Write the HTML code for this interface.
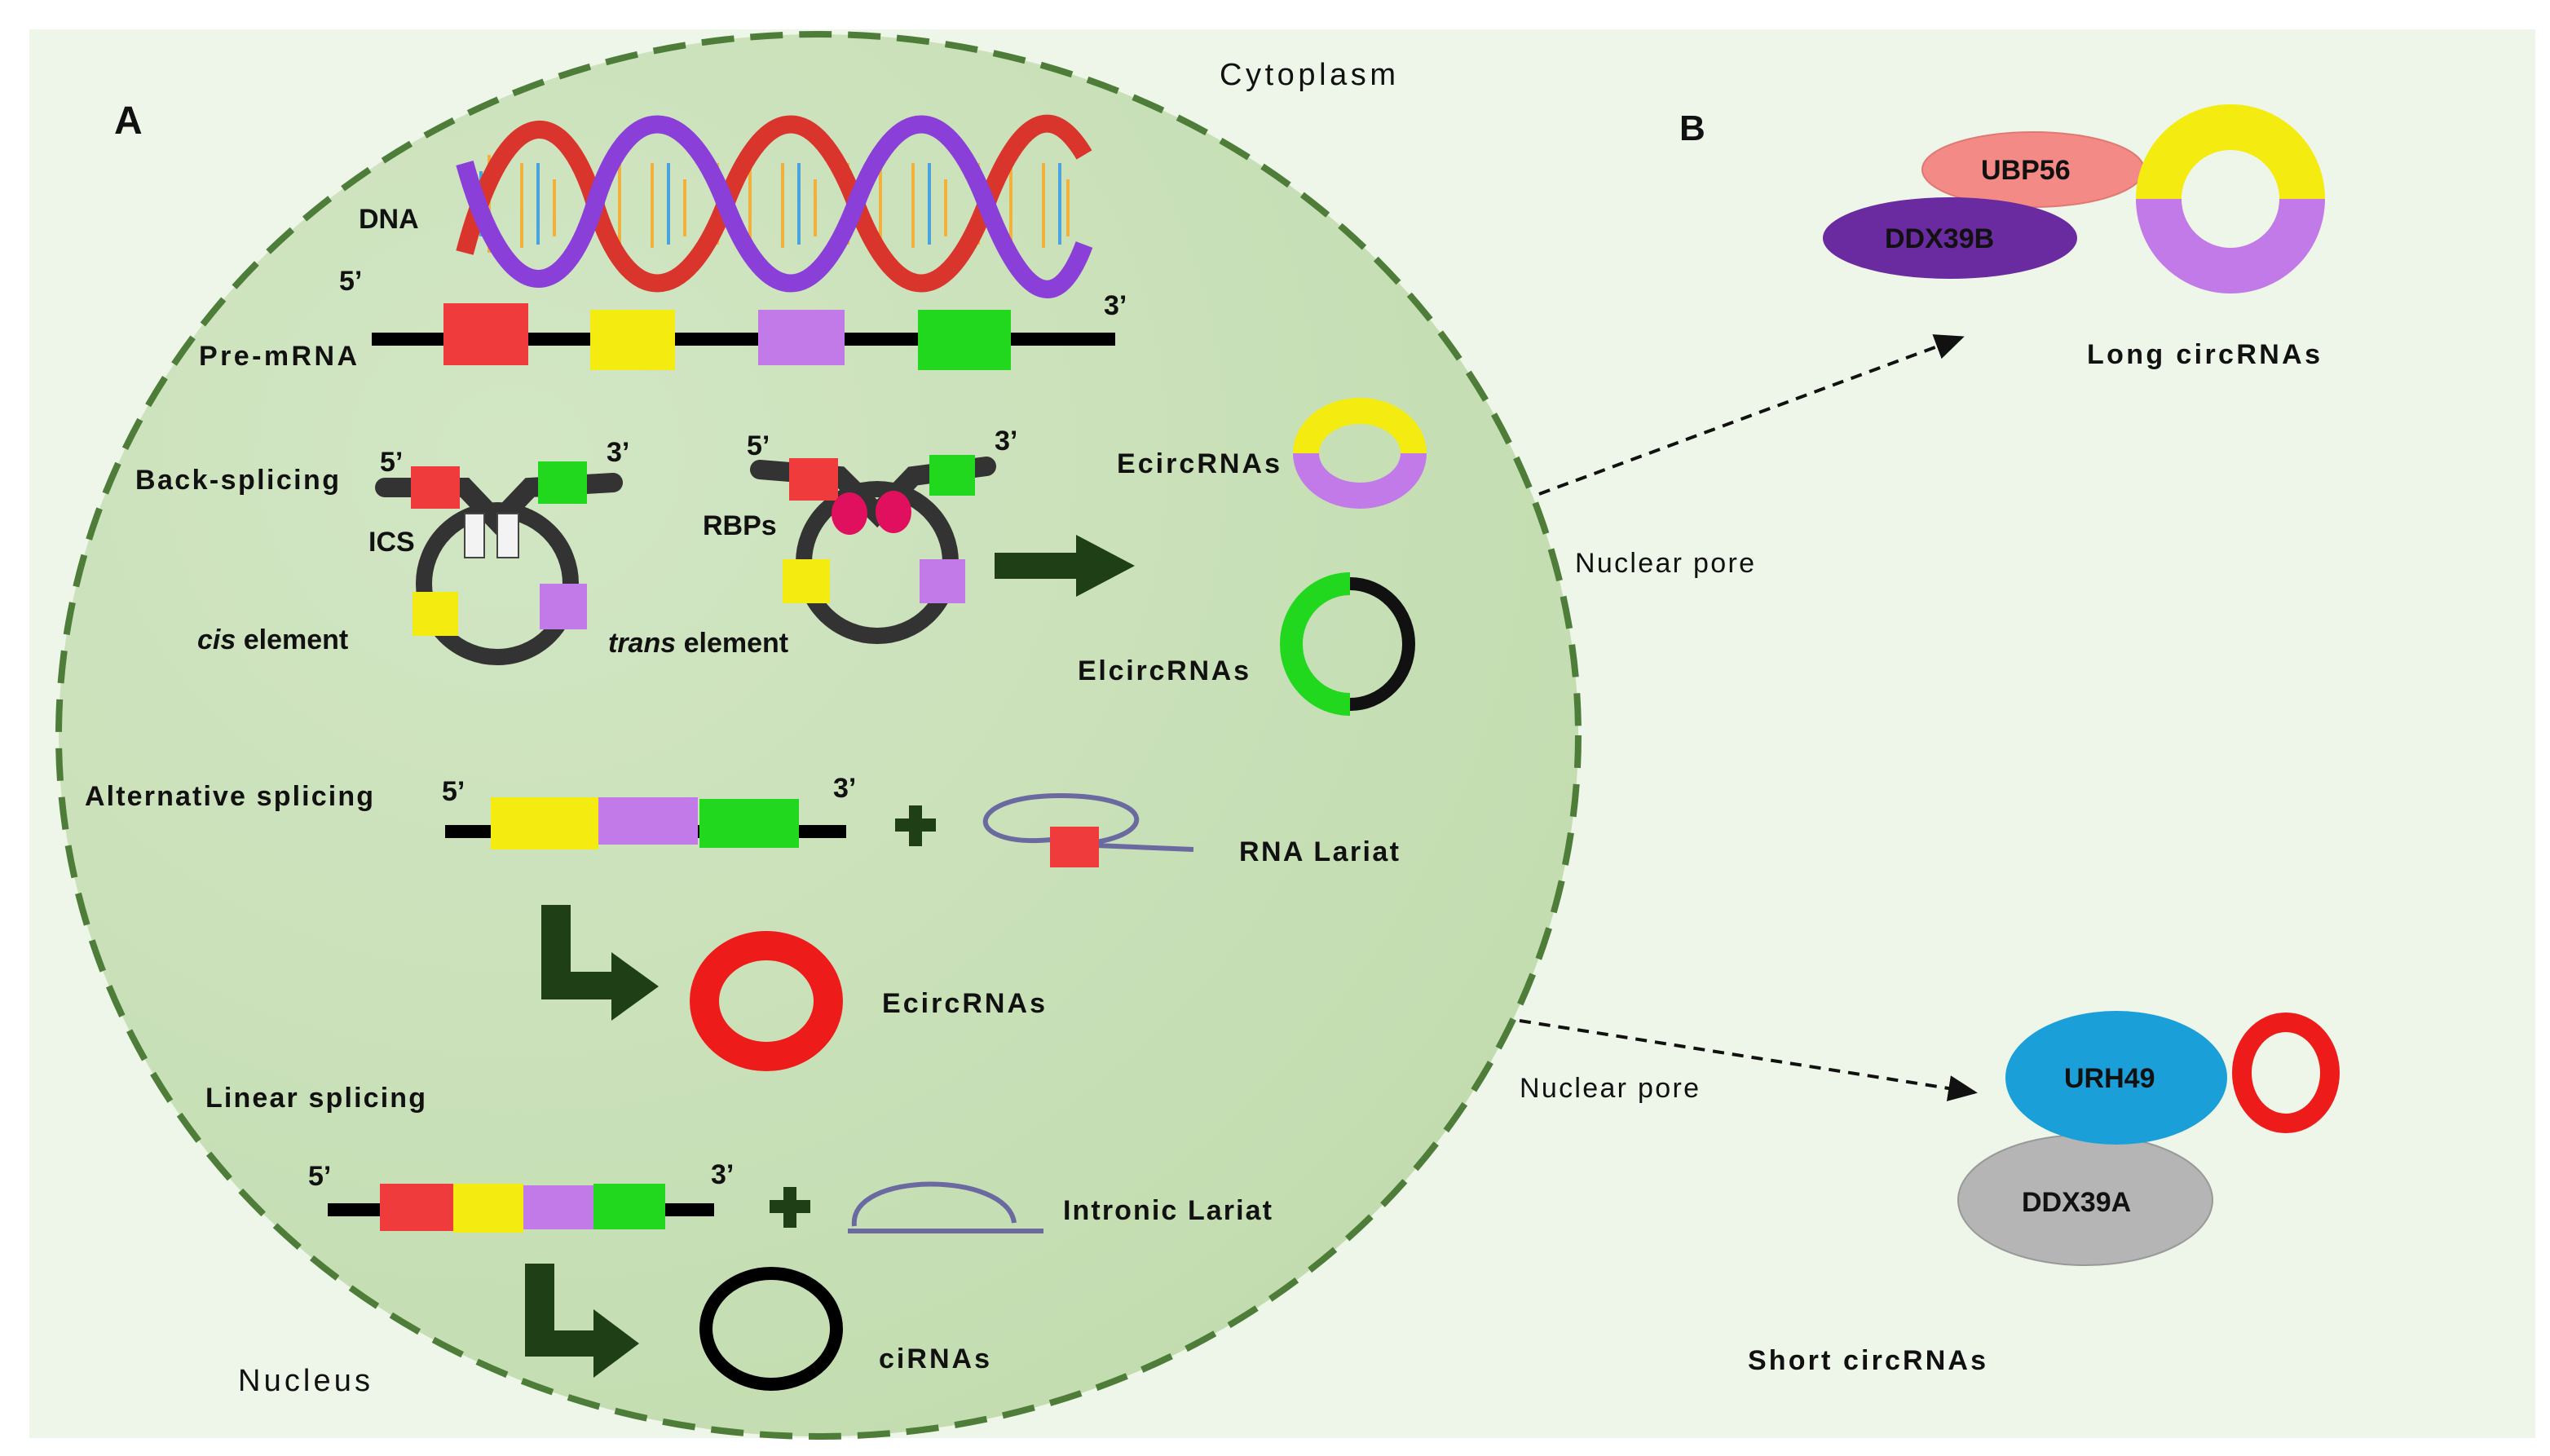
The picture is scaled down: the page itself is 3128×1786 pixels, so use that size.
<!DOCTYPE html>
<html><head><meta charset="utf-8"><style>html,body{margin:0;padding:0;background:#fff}svg{display:block}text{font-family:"Liberation Sans",sans-serif}</style></head><body>
<svg width="3128" height="1786" viewBox="0 0 1564 893" xmlns="http://www.w3.org/2000/svg">
<defs>
<radialGradient id="cg" cx="0.3" cy="0.3" r="0.8"><stop offset="0" stop-color="#d2e6c4"/><stop offset="1" stop-color="#c2dcaf"/></radialGradient>
<marker id="ah" markerWidth="10" markerHeight="10" refX="8" refY="5" orient="auto"><path d="M0,1 L9,5 L0,9 Z" fill="#111"/></marker>
</defs>
<rect x="18" y="18" width="1537" height="864" fill="#eef5e9"/>
<ellipse cx="502" cy="451" rx="466" ry="430" fill="url(#cg)" stroke="#4e7d3a" stroke-width="4" stroke-dasharray="20 10"/>
<g font-weight="bold" fill="#111" font-size="17">
<text x="70" y="82" font-size="24">A</text>
<text x="1030" y="86" font-size="22">B</text>
<text x="220" y="140">DNA</text>
<text x="208" y="178">5’</text><text x="677" y="193">3’</text>
<text x="122" y="224" textLength="97">Pre-mRNA</text>
<text x="83" y="300" textLength="125">Back-splicing</text>
<text x="233" y="289">5’</text><text x="372" y="283">3’</text>
<text x="226" y="338">ICS</text>
<text x="121" y="398"><tspan font-style="italic">cis</tspan> element</text>
<text x="458" y="279">5’</text><text x="610" y="276">3’</text>
<text x="431" y="328">RBPs</text>
<text x="373" y="400"><tspan font-style="italic">trans</tspan> element</text>
<text x="685" y="290" textLength="100">EcircRNAs</text>
<text x="661" y="417" textLength="105">ElcircRNAs</text>
<text x="52" y="494" textLength="177">Alternative splicing</text>
<text x="271" y="491">5’</text><text x="511" y="489">3’</text>
<text x="760" y="528" textLength="98">RNA Lariat</text>
<text x="541" y="621" textLength="100">EcircRNAs</text>
<text x="126" y="679" textLength="135">Linear splicing</text>
<text x="189" y="727">5’</text><text x="436" y="726">3’</text>
<text x="652" y="748" textLength="128">Intronic Lariat</text>
<text x="539" y="839" textLength="68">ciRNAs</text>
<text x="1280" y="223" textLength="143">Long circRNAs</text>
<text x="1072" y="840" textLength="146">Short circRNAs</text>
</g>
<g fill="#111" font-size="19">
<text x="748" y="52" textLength="108">Cytoplasm</text>
<text x="146" y="853" textLength="81">Nucleus</text>
<text x="966" y="351" font-size="17" textLength="110">Nuclear pore</text>
<text x="932" y="673" font-size="17" textLength="110">Nuclear pore</text>
</g>
<!-- DNA -->
<g fill="none">
<g stroke-width="2">
<path d="M290,100 V150 M300,95 V155 M320,100 V152 M340,110 V145 M360,100 V150 M380,95 V155 M400,100 V152 M420,110 V145 M440,100 V150 M460,95 V155 M480,100 V152 M500,110 V145 M520,100 V150 M540,95 V155 M560,100 V152 M580,110 V145 M600,100 V150 M620,95 V155 M640,100 V152 M655,110 V145" stroke="#f2b13a"/>
<path d="M295,105 V145 M330,100 V150 M370,105 V145 M410,100 V150 M450,105 V145 M490,100 V150 M530,105 V145 M570,100 V150 M610,105 V145 M650,100 V150" stroke="#4aa3e0"/>
</g>
<path d="M285,155 C310,60 345,60 365,125 S420,190 445,125 S500,60 525,125 S580,190 605,125 S650,70 665,95" stroke="#d9352c" stroke-width="11"/>
<path d="M285,100 C310,190 345,190 365,125 S420,60 445,125 S500,190 525,125 S580,60 605,125 S650,190 665,150" stroke="#8a3fd8" stroke-width="11"/>
</g>
<!-- pre-mRNA -->
<line x1="228" y1="208" x2="684" y2="208" stroke="#000" stroke-width="8"/>
<rect x="272" y="186" width="52" height="38" fill="#ef3b3b"/>
<rect x="362" y="190" width="52" height="37" fill="#f4ec10"/>
<rect x="465" y="190" width="53" height="34" fill="#c27ae8"/>
<rect x="563" y="190" width="57" height="37" fill="#22d81e"/>
<!-- back-splicing -->
<g stroke="#333" fill="none" stroke-linecap="round">
<circle cx="305" cy="358" r="45" stroke-width="10"/>
<path d="M236,299 L285,299 L305,320 L325,299 L376,296" stroke-width="12"/>
<circle cx="538" cy="345" r="45" stroke-width="10"/>
<path d="M466,288 L515,292 L538,315 L560,292 L605,286" stroke-width="12"/>
</g>
<rect x="252" y="286" width="30" height="26" fill="#ef3b3b"/>
<rect x="330" y="283" width="30" height="26" fill="#22d81e"/>
<rect x="285" y="315" width="12" height="27" fill="#f3f3f3" stroke="#444"/>
<rect x="305" y="315" width="13" height="27" fill="#f3f3f3" stroke="#444"/>
<rect x="253" y="363" width="28" height="27" fill="#f4ec10"/>
<rect x="331" y="358" width="29" height="28" fill="#c27ae8"/>
<rect x="484" y="281" width="30" height="26" fill="#ef3b3b"/>
<rect x="570" y="279" width="28" height="25" fill="#22d81e"/>
<ellipse cx="521" cy="315" rx="11" ry="13" fill="#e0105e"/>
<ellipse cx="548" cy="314" rx="11" ry="13" fill="#e0105e"/>
<rect x="480" y="343" width="29" height="27" fill="#f4ec10"/>
<rect x="564" y="343" width="28" height="27" fill="#c27ae8"/>
<path d="M610,339 H660 V328 L696,347 L660,366 V355 H610 Z" fill="#1f4016"/>
<!-- Ecirc ring -->
<path d="M801,278 A33,26 0 0 1 867,278" stroke="#f4ec10" stroke-width="16" fill="none"/>
<path d="M801,278 A33,26 0 0 0 867,278" stroke="#c27ae8" stroke-width="16" fill="none"/>
<!-- Elcirc ring -->
<path d="M828,358 A36,37 0 0 0 828,432" stroke="#22d81e" stroke-width="14" fill="none"/>
<path d="M828,358 A36,37 0 0 1 828,432" stroke="#111" stroke-width="8" fill="none"/>
<!-- alternative splicing -->
<line x1="273" y1="510" x2="519" y2="510" stroke="#000" stroke-width="8"/>
<rect x="301" y="489" width="66" height="32" fill="#f4ec10"/>
<rect x="367" y="489" width="61" height="29" fill="#c27ae8"/>
<rect x="429" y="490" width="61" height="30" fill="#22d81e"/>
<path d="M549,506 H574 M561.5,494 V519" stroke="#1f4016" stroke-width="8"/>
<path d="M645,515 C590,520 590,488 650,488 C710,488 712,514 660,518 L732,521" stroke="#6b6aa0" stroke-width="3" fill="none"/>
<rect x="644" y="507" width="30" height="25" fill="#ef3b3b"/>
<path d="M332,555 H350 V596 H375 V584 L404,605 L375,626 V613 H332 Z" fill="#1f4016"/>
<ellipse cx="470" cy="614" rx="38" ry="34" fill="none" stroke="#ee1b1b" stroke-width="18"/>
<!-- linear splicing -->
<line x1="201" y1="742" x2="438" y2="742" stroke="#000" stroke-width="8"/>
<rect x="233" y="726" width="45" height="29" fill="#ef3b3b"/>
<rect x="278" y="726" width="43" height="30" fill="#f4ec10"/>
<rect x="321" y="727" width="43" height="27" fill="#c27ae8"/>
<rect x="364" y="726" width="44" height="28" fill="#22d81e"/>
<path d="M472,740 H497 M484.5,728 V753" stroke="#1f4016" stroke-width="8"/>
<path d="M524,752 C520,718 618,718 622,750 M520,755 H640" stroke="#6b6aa0" stroke-width="3" fill="none"/>
<path d="M322,775 H340 V816 H364 V803 L392,824 L364,845 V832 H322 Z" fill="#1f4016"/>
<ellipse cx="473" cy="815" rx="40" ry="34" fill="none" stroke="#000" stroke-width="8"/>
<!-- connectors -->
<line x1="944" y1="303" x2="1203" y2="207" stroke="#111" stroke-width="2" stroke-dasharray="7 5" marker-end="url(#ah)"/>
<line x1="932" y1="626" x2="1211" y2="670" stroke="#111" stroke-width="2" stroke-dasharray="7 5" marker-end="url(#ah)"/>
<!-- B -->
<ellipse cx="1247" cy="104" rx="68" ry="23" fill="#f48a85" stroke="#e07874"/>
<ellipse cx="1196" cy="146" rx="78" ry="25" fill="#6a2aa0"/>
<path d="M1324,122 A44,44 0 0 1 1412,122" stroke="#f4ec10" stroke-width="28" fill="none"/>
<path d="M1324,122 A44,44 0 0 0 1412,122" stroke="#c27ae8" stroke-width="28" fill="none"/>
<ellipse cx="1279" cy="736" rx="78" ry="40" fill="#b5b5b5" stroke="#999"/>
<ellipse cx="1298" cy="661" rx="68" ry="41" fill="#1a9fd8"/>
<ellipse cx="1402" cy="658" rx="27" ry="31" fill="none" stroke="#ee1b1b" stroke-width="12"/>
<g font-weight="bold" font-size="17" fill="#111">
<text x="1215" y="110">UBP56</text>
<text x="1156" y="152">DDX39B</text>
<text x="1266" y="667">URH49</text>
<text x="1240" y="743">DDX39A</text>
</g>
</svg>
</body></html>
